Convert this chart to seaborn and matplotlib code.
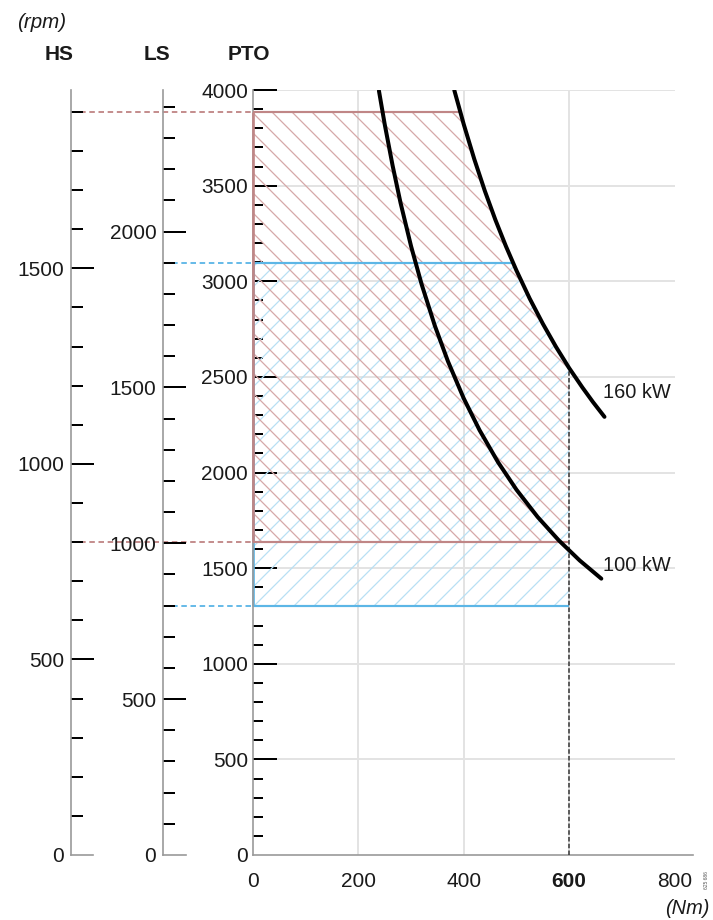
import numpy as np
import matplotlib.pyplot as plt
import matplotlib.transforms as mtransforms
from matplotlib.patches import Polygon
from matplotlib.ticker import MultipleLocator
import seaborn as sns

# torque (Nm) / PTO speed (rpm) points
kw100_torque = [239, 250, 265, 280, 300, 320, 345, 370, 400, 430, 465, 500, 540, 580, 620, 661]
kw100_rpm = [3996, 3820, 3604, 3410, 3183, 2984, 2768, 2581, 2387, 2221, 2054, 1910, 1768, 1646, 1540, 1445]
kw160_torque = [382, 400, 420, 440, 460, 480, 500, 525, 550, 575, 600, 625, 645, 667]
kw160_rpm = [3999, 3820, 3638, 3472, 3321, 3183, 3056, 2910, 2778, 2657, 2546, 2445, 2369, 2291]

# engine speed bands (rpm) on the HS and LS scales
hs_band = [800, 1900]
ls_band = [800, 1900]
pto_per_hs = 2.045  # PTO rpm for one HS rpm
pto_per_ls = 1.63   # PTO rpm for one LS rpm
max_torque = 600

x_ticks = [0, 200, 400, 600, 800]
pto_ticks = [0, 500, 1000, 1500, 2000, 2500, 3000, 3500, 4000]
hs_ticks = [0, 500, 1000, 1500]
ls_ticks = [0, 500, 1000, 1500, 2000]

sns.set_style('white')
plt.rcParams['font.family'] = ['Liberation Sans', 'DejaVu Sans']
plt.rcParams['hatch.linewidth'] = 0.75

W, H, DPI = 713, 920, 120
fig = plt.figure(figsize=(W / DPI, H / DPI), dpi=DPI)

y_zero, y_top = 855, 90  # pixel rows of 0 and 4000 rpm
bottom = 1 - y_zero / H
height = (y_zero - y_top) / H
ax = fig.add_axes([253 / W, bottom, (693 - 253) / W, height])
ax_hs = fig.add_axes([71 / W, bottom, 22 / W, height])
ax_ls = fig.add_axes([163 / W, bottom, 23 / W, height])

txt = '#1a1a1a'
spine_c = '#9a9a9a'
red_line, red_hatch = '#c08686', '#d6a8a8'
blue_line, blue_hatch = '#5cb6e6', '#b8e0f4'

# main (PTO) axis
ax.set_xlim(0, 835)
ax.set_ylim(0, 4000)
sns.despine(ax=ax)
for s in ['left', 'bottom']:
    ax.spines[s].set_color(spine_c)
    ax.spines[s].set_linewidth(1.0)
ax.set_xticks(x_ticks)
ax.set_yticks(pto_ticks)
ax.yaxis.set_minor_locator(MultipleLocator(100))
ax.tick_params(axis='y', which='major', direction='in', length=14.4, width=1.2, color='black',
               pad=3, labelsize=12.5, labelcolor=txt, left=True)
ax.tick_params(axis='y', which='minor', direction='in', length=6, width=1.2, color='black', left=True)
ax.tick_params(axis='x', length=0, pad=10, labelsize=12.5, labelcolor=txt)
ax.yaxis.get_major_ticks()[0].tick1line.set_visible(False)
ax.get_xticklabels()[3].set_fontweight('bold')

# grid
ax.hlines(pto_ticks[1:], 0, 800, color='#e3e3e3', lw=1.2, zorder=0)
ax.vlines(x_ticks[1:4], 0, 4000, color='#e3e3e3', lw=1.2, zorder=0)

# region under the 160 kW curve
clip = Polygon([(0, 4000)] + list(zip(kw160_torque, kw160_rpm)) + [(kw160_torque[-1], 0), (0, 0)],
               closed=True, transform=ax.transData, facecolor='none', edgecolor='none')

red_lo, red_hi = [v * pto_per_hs for v in hs_band]
blue_lo, blue_hi = [v * pto_per_ls for v in ls_band]

b = ax.fill_betweenx([blue_lo, blue_hi], 0, max_torque, facecolor='none', edgecolor=blue_hatch,
                     hatch='//', linewidth=0, zorder=1)
b.set_clip_path(clip)
r = ax.fill_betweenx([red_lo, red_hi], 0, max_torque, facecolor='none', edgecolor=red_hatch,
                     hatch='\\\\', linewidth=0, zorder=1)
r.set_clip_path(clip)

bl = ax.hlines([blue_lo, blue_hi], 0, max_torque, color=blue_line, lw=1.3, zorder=2)
bl.set_clip_path(clip)
ax.vlines(0, blue_lo, blue_hi, color=blue_line, lw=1.6, zorder=2, clip_on=False)
rl = ax.hlines([red_lo, red_hi], 0, max_torque, color=red_line, lw=1.3, zorder=3)
rl.set_clip_path(clip)
ax.vlines(0, red_lo, red_hi, color=red_line, lw=1.6, zorder=3, clip_on=False)

dl = ax.vlines(max_torque, 0, 4000, color='#333333', lw=0.9, linestyles=(0, (3, 1.5)), zorder=3)
dl.set_clip_path(clip)

# power curves
sns.lineplot(x=kw100_torque, y=kw100_rpm, ax=ax, color='black', linewidth=2.4, sort=False,
             estimator=None, zorder=5)
sns.lineplot(x=kw160_torque, y=kw160_rpm, ax=ax, color='black', linewidth=2.4, sort=False,
             estimator=None, zorder=5)
ax.text(665, 2416, '160 kW', fontsize=12, color=txt, ha='left', va='center')
ax.text(665, 1516, '100 kW', fontsize=12, color=txt, ha='left', va='center')

# HS and LS scales
for a, ticks, ratio in [(ax_hs, hs_ticks, pto_per_hs), (ax_ls, ls_ticks, pto_per_ls)]:
    a.set_ylim(0, 4000 / ratio)
    a.set_xlim(0, 1)
    sns.despine(ax=a)
    for s in ['left', 'bottom']:
        a.spines[s].set_color(spine_c)
        a.spines[s].set_linewidth(1.0)
    a.set_xticks([])
    a.set_yticks(ticks)
    a.yaxis.set_minor_locator(MultipleLocator(100))
    a.tick_params(axis='y', which='major', direction='in', length=13.5, width=1.2, color='black',
                  pad=4, labelsize=12.5, labelcolor=txt, left=True)
    a.tick_params(axis='y', which='minor', direction='in', length=7, width=1.2, color='black', left=True)
    a.yaxis.get_major_ticks()[0].tick1line.set_visible(False)
    a.patch.set_alpha(0)

# dashed links from the HS / LS scales to the PTO axis
tr = mtransforms.blended_transform_factory(fig.transFigure, ax.transData)
for v in [red_lo, red_hi]:
    ax.plot([71 / W, 253 / W], [v, v], transform=tr, color=red_line, lw=1.1,
            linestyle=(0, (3, 2)), clip_on=False, zorder=0)
for v in [blue_lo, blue_hi]:
    ax.plot([163 / W, 253 / W], [v, v], transform=tr, color=blue_line, lw=1.1,
            linestyle=(0, (3, 2)), clip_on=False, zorder=0)

# headers and units
fig.text(42 / W, 1 - 23 / H, '(rpm)', fontsize=12.3, style='italic', color=txt, ha='center', va='center')
fig.text(59 / W, 1 - 55 / H, 'HS', fontsize=12.5, fontweight='bold', color=txt, ha='center', va='center')
fig.text(157 / W, 1 - 55 / H, 'LS', fontsize=12.5, fontweight='bold', color=txt, ha='center', va='center')
fig.text(249 / W, 1 - 55 / H, 'PTO', fontsize=12.5, fontweight='bold', color=txt, ha='center', va='center')
fig.text(687 / W, 1 - 908 / H, '(Nm)', fontsize=12, style='italic', color=txt, ha='center', va='center')
fig.text(707 / W, 1 - 880 / H, '625 686', fontsize=3, rotation=90, color='#555555', ha='center', va='center')

fig.savefig('out.png', dpi=DPI)
